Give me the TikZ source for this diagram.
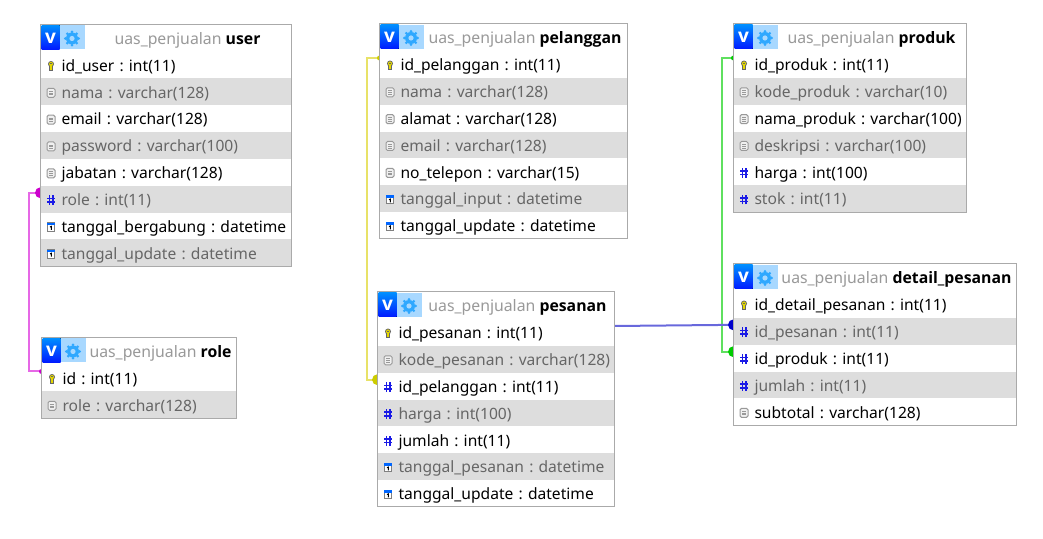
\documentclass[tikz,border=0pt]{standalone}
\usepackage{fontspec}
\setmainfont{Noto Sans}
\newfontfamily\titlefont{Open Sans}
\usepackage{xcolor}
\usetikzlibrary{positioning, backgrounds}

\definecolor{rowgray}{HTML}{DDDDDD}
\definecolor{rowtext}{HTML}{666666}
\definecolor{framegray}{HTML}{AAAAAA}
\definecolor{titlegray}{HTML}{999999}
\definecolor{numblue}{HTML}{1A1AE6}
\definecolor{gearblue}{HTML}{2FA8FF}
\definecolor{gearback}{HTML}{A8D8FF}
\definecolor{linkrole}{HTML}{E668E6}
\definecolor{dotrole}{HTML}{CC00CC}
\definecolor{linkcust}{HTML}{E8E268}
\definecolor{dotcust}{HTML}{CCCC00}
\definecolor{linkprod}{HTML}{5FE05F}
\definecolor{dotprod}{HTML}{00CC00}
\definecolor{linkorder}{HTML}{6868DC}
\definecolor{dotorder}{HTML}{0000CC}

\tikzset{
  pics/iconkey/.style = {code = {
    \fill[black!60] (0,1.9) ellipse (3 and 3);
    \fill[black!60] (-2.3,-4.8) rectangle (2.3,0);
    \fill[yellow!75!olive] (0,1.9) ellipse (2 and 2.1);
    \fill[yellow!75!olive] (-1.2,-4) rectangle (1.2,0.6);
    \fill[black!60] (-0.7,1.6) rectangle (0.7,2.8);
  }},
  pics/icondoc/.style = {code = {
    \draw[gray!80, fill=gray!12, rounded corners=1.5pt, line width=1pt] (-4,-4.5) rectangle (4,4.5);
    \draw[gray!80, line width=0.7pt] (-2,1.6) -- (2,1.6) (-2,-0.2) -- (2,-0.2) (-2,-2) -- (2,-2);
  }},
  pics/iconnum/.style = {code = {
    \draw[numblue, line width=1.6pt] (-1.7,-4.8) -- (-1.7,4.8) (1.7,-4.8) -- (1.7,4.8)
                                     (-4,1.8) -- (4,1.8) (-4,-1.8) -- (4,-1.8);
  }},
  pics/iconcal/.style = {code = {
    \draw[gray, fill=white, line width=0.8pt] (-3.8,-4.2) rectangle (3.8,4.2);
    \fill[blue!60!cyan] (-3.8,1.6) rectangle (3.8,4.2);
    \draw[black, line width=1pt] (0.3,-2.8) -- (0.3,0.6) -- (-1,0);
  }}
}

% one table: id, x, y, width, name, number of rows, rows
\newcommand{\dbtable}[7]{
  \node (#1-h) [headbox, minimum width=#4pt, anchor=north west] at (#2,#3)
    {\hspace*{43pt}\makebox[\dimexpr#4pt-43pt\relax]{\fontsize{15.8}{18}\selectfont\textcolor{titlegray}{uas\_penjualan} {\titlefont\bfseries #5}}};
  \fill[top color=blue!45!cyan, bottom color=blue!90!cyan] ([xshift=1pt,yshift=-1pt]#1-h.north west) rectangle ++(18,-24);
  \fill[gearback] ([xshift=19pt,yshift=-1pt]#1-h.north west) rectangle ++(25,-24);
  \node (#1-v) [white, inner sep=0, font=\titlefont\bfseries\fontsize{19}{19}\selectfont] at ([xshift=10pt,yshift=-13.5pt]#1-h.north west) {v};
  \coordinate (#1-g) at ([xshift=31.5pt,yshift=-14pt]#1-h.north west);
  \foreach \a in {0,45,...,315}
    \fill[gearblue] (#1-g) ++(\a:6.6) circle (1.5);
  \fill[gearblue] (#1-g) circle (6);
  \fill[gearback] (#1-g) circle (2.6);
  \foreach \kind/\txt [count=\i, remember=\i as \j (initially h)] in {#7} {
    \ifodd\i \def\rowst{rowa}\else \def\rowst{rowb}\fi
    \node (#1-\i) [\rowst, minimum width=#4pt, text width=#4pt, below=0pt of #1-\j] {\hspace*{21pt}\txt};
    \pic at ([xshift=10.5pt,yshift=-1pt]#1-\i.west) {icon\kind};
  }
  \draw[framegray, line width=1pt] (#1-h.north west) rectangle (#1-#6.south east);
}

\begin{document}
\frenchspacing
\begin{tikzpicture}[x=1pt, y=1pt,
    headbox/.style = {fill=white, inner sep=0, outer sep=0, minimum height=27pt, text height=14.5pt, text depth=2pt},
    rowa/.style = {fill=white, text=black, inner sep=0, outer sep=0, align=left, minimum height=26.85pt, text height=14.5pt, text depth=2pt},
    rowb/.style = {rowa, fill=rowgray, text=rowtext},
    link/.style = {line width=2pt},
    every node/.append style = {font=\fontsize{15.6}{18}\selectfont}]
  \useasboundingbox (0,0) rectangle (1043,538);

  \dbtable{user}{40.5}{513.5}{251}{user}{8}{key/id\_user : int(11), doc/nama : varchar(128), doc/email : varchar(128), doc/password : varchar(100), doc/jabatan : varchar(128), num/role : int(11), cal/tanggal\_bergabung : datetime, cal/tanggal\_update : datetime}
  \dbtable{role}{41.5}{200.5}{195}{role}{2}{key/id : int(11), doc/role : varchar(128)}
  \dbtable{pelanggan}{379.5}{514}{248}{pelanggan}{7}{key/id\_pelanggan : int(11), doc/nama : varchar(128), doc/alamat : varchar(128), doc/email : varchar(128), doc/no\_telepon : varchar(15), cal/tanggal\_input : datetime, cal/tanggal\_update : datetime}
  \dbtable{pesanan}{377.5}{246}{237}{pesanan}{7}{key/id\_pesanan : int(11), doc/kode\_pesanan : varchar(128), num/id\_pelanggan : int(11), num/harga : int(100), num/jumlah : int(11), cal/tanggal\_pesanan : datetime, cal/tanggal\_update : datetime}
  \dbtable{produk}{733.5}{514}{233}{produk}{6}{key/id\_produk : int(11), doc/kode\_produk : varchar(10), doc/nama\_produk : varchar(100), doc/deskripsi : varchar(100), num/harga : int(100), num/stok : int(11)}
  \dbtable{detail}{733.5}{274}{283}{detail\_pesanan}{5}{key/id\_detail\_pesanan : int(11), num/id\_pesanan : int(11), num/id\_produk : int(11), num/jumlah : int(11), doc/subtotal : varchar(128)}

  \begin{pgfonlayer}{background}
    % role
    \draw[link, linkrole] ([yshift=-7pt]user-6.north west) -- ++(-12,0) |- ([yshift=-7pt]role-1.north west);
    \fill[dotrole] ([yshift=-7pt]user-6.north west) circle (5.5);
    \fill[dotrole] ([yshift=-7pt]role-1.north west) circle (2.5);
    % pelanggan
    \draw[link, linkcust] ([yshift=-7pt]pelanggan-1.north west) -- ++(-13,0) |- ([yshift=-7pt]pesanan-3.north west);
    \fill[dotcust] ([yshift=-7pt]pesanan-3.north west) circle (5.5);
    \fill[dotcust] ([yshift=-7pt]pelanggan-1.north west) circle (2.5);
    % produk
    \draw[link, linkprod] ([yshift=-7pt]produk-1.north west) -- ++(-12,0) |- ([yshift=-7pt]detail-3.north west);
    \fill[dotprod] ([yshift=-7pt]detail-3.north west) circle (5.5);
    \fill[dotprod] ([yshift=-7pt]produk-1.north west) circle (2.5);
    % pesanan
    \draw[link, linkorder] ([yshift=-7pt]pesanan-1.north east) -- ([yshift=-7pt]detail-2.north west);
    \fill[dotorder] ([yshift=-7pt]detail-2.north west) circle (5.5);
  \end{pgfonlayer}
\end{tikzpicture}
\end{document}
